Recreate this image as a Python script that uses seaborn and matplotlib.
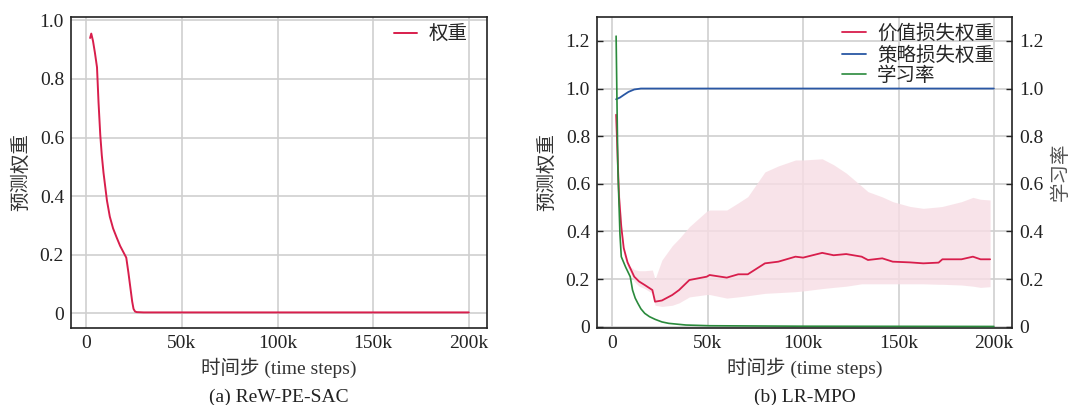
import numpy as np
import pandas as pd
import matplotlib.pyplot as plt
import seaborn as sns
from matplotlib.ticker import FuncFormatter

# (a) ReW-PE-SAC: predicted weight
a_steps = [2000, 2600, 3500, 4500, 5600, 6400, 7300, 8100, 9000, 10800, 12300, 14000,
           15800, 17700, 19300, 20900, 22000, 23000, 24000, 24700, 25500,
           26400, 30000, 50000, 100000, 150000, 200000]
a_weight = [0.94, 0.955, 0.93, 0.89, 0.84, 0.72, 0.61, 0.54, 0.48, 0.385, 0.33, 0.29,
            0.26, 0.23, 0.21, 0.19, 0.14, 0.09, 0.04, 0.015, 0.006,
            0.004, 0.003, 0.003, 0.003, 0.003, 0.003]

# (b) LR-MPO: value loss weight (mean + band)
v_steps = [2000, 3500, 4700, 6000, 8000, 11500, 14000, 17000, 21000, 22400, 26000, 31400,
           35000, 40400, 49500, 51000, 60000, 66000, 71000, 80000, 87000, 96000, 100000,
           110000, 116000, 122600, 130700, 134000, 141500, 147000, 156000, 163000, 171000,
           173000, 183000, 189000, 193000, 198000]
v_mean = [0.89, 0.55, 0.42, 0.33, 0.27, 0.21, 0.19, 0.175, 0.154, 0.105, 0.11, 0.133,
          0.154, 0.196, 0.21, 0.217, 0.206, 0.22, 0.22, 0.266, 0.273, 0.294, 0.29,
          0.31, 0.30, 0.305, 0.294, 0.28, 0.287, 0.273, 0.27, 0.266, 0.269,
          0.283, 0.283, 0.294, 0.283, 0.283]
v_upper = [0.89, 0.60, 0.45, 0.33, 0.26, 0.24, 0.235, 0.235, 0.238, 0.20, 0.28, 0.34,
           0.37, 0.42, 0.485, 0.49, 0.49, 0.52, 0.546, 0.65, 0.675, 0.70, 0.70,
           0.705, 0.68, 0.645, 0.59, 0.567, 0.545, 0.525, 0.505, 0.497, 0.503,
           0.505, 0.525, 0.543, 0.535, 0.532]
v_lower = [0.70, 0.48, 0.38, 0.30, 0.25, 0.19, 0.17, 0.16, 0.14, 0.09, 0.085, 0.09,
           0.10, 0.125, 0.135, 0.135, 0.12, 0.125, 0.13, 0.14, 0.143, 0.147, 0.15,
           0.16, 0.165, 0.17, 0.18, 0.18, 0.18, 0.18, 0.18, 0.18, 0.178,
           0.178, 0.175, 0.17, 0.165, 0.168]

# policy loss weight
p_steps = [2000, 4000, 6000, 8500, 11500, 15000, 50000, 100000, 150000, 200000]
p_weight = [0.955, 0.962, 0.973, 0.986, 0.996, 1.0, 1.0, 1.0, 1.0, 1.0]

# learning rate (right axis)
lr_steps = [2000, 2900, 4000, 4700, 7000, 9400, 10600, 12000, 13400, 15000, 17000, 19500,
            22400, 26000, 29600, 38600, 51000, 100000, 150000, 200000]
lr_value = [1.22, 0.67, 0.39, 0.294, 0.25, 0.21, 0.154, 0.12, 0.098, 0.075, 0.056, 0.042,
            0.031, 0.02, 0.014, 0.007, 0.004, 0.002, 0.0015, 0.001]

RED = "#d81e4c"
BLUE = "#2957a4"
GREEN = "#2a8a3c"
FS = 14

sns.set_theme(style="whitegrid")
plt.rcParams["font.family"] = ["Liberation Serif", "Noto Sans CJK SC"]
plt.rcParams["font.size"] = FS
plt.rcParams["axes.unicode_minus"] = False

fig = plt.figure(figsize=(10.74, 4.05), dpi=100)
ax_a = fig.add_axes([0.0661, 0.191, 0.3873, 0.768])
ax_b = fig.add_axes([0.5559, 0.191, 0.3864, 0.768])

fmt = FuncFormatter(lambda v, p: "0" if abs(v) < 1e-9 else f"{v:.1f}")
kfmt = FuncFormatter(lambda v, p: "0" if v == 0 else f"{int(v / 1000)}k")


def style_axis(ax):
    for s in ax.spines.values():
        s.set_color("#222222")
        s.set_linewidth(1.2)
    ax.grid(True, color="#cfcfcf", linewidth=1.2)
    ax.set_xlim(-8000, 209500)
    ax.set_xticks([0, 50000, 100000, 150000, 200000])
    ax.xaxis.set_major_formatter(kfmt)
    ax.yaxis.set_major_formatter(fmt)
    ax.tick_params(direction="in", length=4, width=1, colors="#222222",
                   labelsize=FS, labelcolor="#222222", pad=5)
    ax.set_xlabel("时间步 (time steps)", fontsize=FS, color="#333333", labelpad=4)
    ax.set_ylabel("预测权重", fontsize=FS, color="#333333", labelpad=7)


# panel (a)
df_a = pd.DataFrame({"step": a_steps, "w": a_weight})
sns.lineplot(data=df_a, x="step", y="w", ax=ax_a, color=RED, linewidth=1.4, label="权重")
style_axis(ax_a)
ax_a.set_ylim(-0.049, 1.013)
ax_a.set_yticks([0, 0.2, 0.4, 0.6, 0.8, 1.0])
ax_a.legend(loc="upper right", bbox_to_anchor=(0.972, 0.995), frameon=False, fontsize=FS,
            handlelength=1.2, handletextpad=0.6, borderaxespad=0)
ax_a.text(0.5, -0.195, "(a) ReW-PE-SAC", transform=ax_a.transAxes, ha="center",
          va="top", fontsize=FS, color="#222222")

# panel (b)
df_v = pd.DataFrame({"step": v_steps, "mean": v_mean, "lo": v_lower, "hi": v_upper})
df_p = pd.DataFrame({"step": p_steps, "w": p_weight})
df_lr = pd.DataFrame({"step": lr_steps, "lr": lr_value})

ax_b.fill_between(df_v["step"], df_v["lo"], df_v["hi"], color="#f7dde4", alpha=0.8,
                  linewidth=0)
sns.lineplot(data=df_v, x="step", y="mean", ax=ax_b, color=RED, linewidth=1.3,
             label="价值损失权重")
sns.lineplot(data=df_p, x="step", y="w", ax=ax_b, color=BLUE, linewidth=1.3,
             label="策略损失权重")
style_axis(ax_b)
ax_b.set_ylim(-0.004, 1.302)
ax_b.set_yticks([0, 0.2, 0.4, 0.6, 0.8, 1.0, 1.2])

ax_r = ax_b.twinx()
sns.lineplot(data=df_lr, x="step", y="lr", ax=ax_r, color=GREEN, linewidth=1.2,
             label="学习率")
ax_r.set_ylim(-0.004, 1.302)
ax_r.set_yticks([0, 0.2, 0.4, 0.6, 0.8, 1.0, 1.2])
ax_r.yaxis.set_major_formatter(fmt)
ax_r.grid(False)
for s in ax_r.spines.values():
    s.set_visible(False)
ax_r.tick_params(direction="in", length=4, width=1, colors="#222222",
                 labelsize=FS, labelcolor="#222222", pad=5)
ax_r.set_ylabel("学习率", fontsize=FS, color="#555555", labelpad=6)

h1, l1 = ax_b.get_legend_handles_labels()
h2, l2 = ax_r.get_legend_handles_labels()
ax_b.get_legend().remove()
ax_r.legend(h1 + h2, l1 + l2, loc="upper right", bbox_to_anchor=(0.976, 1.0),
            frameon=False, fontsize=FS, handlelength=1.2, handletextpad=0.6,
            labelspacing=0.12, borderaxespad=0)
ax_b.text(0.5, -0.195, "(b) LR-MPO", transform=ax_b.transAxes, ha="center",
          va="top", fontsize=FS, color="#222222")

fig.savefig("out.png", dpi=100)
